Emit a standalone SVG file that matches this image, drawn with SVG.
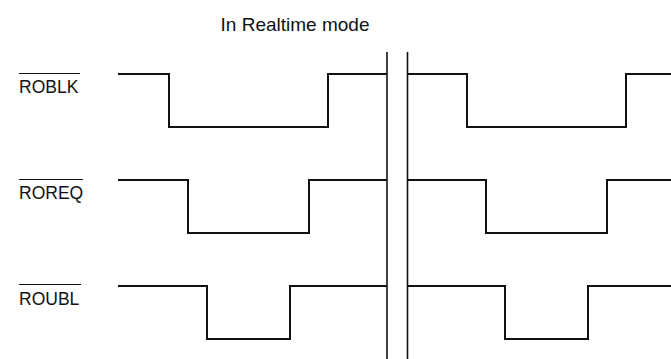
<svg xmlns="http://www.w3.org/2000/svg" width="671" height="359" viewBox="0 0 671 359">
<style>
.t{font-family:"Liberation Sans",Arial,sans-serif;fill:#111}
.lbl{font-size:17.5px}
.ttl{font-size:19px}
.sig{fill:none;stroke:#111;stroke-width:2;stroke-linejoin:miter}
.bar{stroke:#111;stroke-width:1.6}
.ov{stroke:#111;stroke-width:1.2}
</style>
<rect width="671" height="359" fill="#fff"/>
<text class="t ttl" x="295" y="31" text-anchor="middle">In Realtime mode</text>
<g id="ROBLK">
<line class="ov" x1="19" y1="73.5" x2="80" y2="73.5"/>
<text class="t lbl" x="19" y="93">ROBLK</text>
<path class="sig" d="M118 74H169V127H328V74H387"/>
<path class="sig" d="M407 74H467V127H626V74H671"/>
</g>
<g id="ROREQ">
<line class="ov" x1="19" y1="179.5" x2="83" y2="179.5"/>
<text class="t lbl" x="19" y="199">ROREQ</text>
<path class="sig" d="M118 180H188V233H309V180H387"/>
<path class="sig" d="M407 180H486V233H607V180H671"/>
</g>
<g id="ROUBL">
<line class="ov" x1="19" y1="284.5" x2="81" y2="284.5"/>
<text class="t lbl" x="19" y="305">ROUBL</text>
<path class="sig" d="M118 286H207V339H290V286H387"/>
<path class="sig" d="M407 286H505V339H588V286H671"/>
</g>
<g id="connectors">
<line class="bar" x1="387" y1="52" x2="387" y2="359"/>
<line class="bar" x1="407.5" y1="52" x2="407.5" y2="359"/>
</g>
</svg>
